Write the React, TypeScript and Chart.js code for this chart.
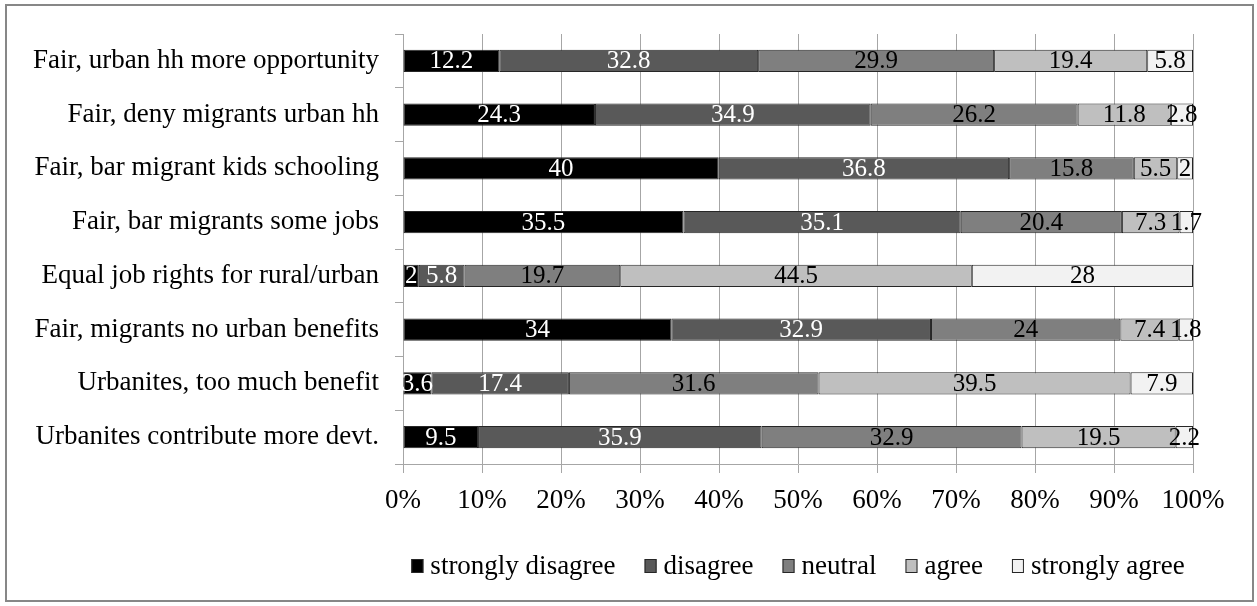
import React, { useEffect, useRef } from "react";
import { Chart, registerables } from "chart.js";

Chart.register(...registerables);

const categories = [
  "Fair, urban hh more opportunity",
  "Fair, deny migrants urban hh",
  "Fair, bar migrant kids schooling",
  "Fair, bar migrants some jobs",
  "Equal job rights for rural/urban",
  "Fair, migrants no urban benefits",
  "Urbanites, too much benefit",
  "Urbanites contribute more devt.",
];

const seriesNames = ["strongly disagree", "disagree", "neutral", "agree", "strongly agree"];

const stronglyDisagree = [12.2, 24.3, 40, 35.5, 2, 34, 3.6, 9.5];
const disagree = [32.8, 34.9, 36.8, 35.1, 5.8, 32.9, 17.4, 35.9];
const neutral = [29.9, 26.2, 15.8, 20.4, 19.7, 24, 31.6, 32.9];
const agree = [19.4, 11.8, 5.5, 7.3, 44.5, 7.4, 39.5, 19.5];
const stronglyAgree = [5.8, 2.8, 2, 1.7, 28, 1.8, 7.9, 2.2];

const xTickLabels = ["0%", "10%", "20%", "30%", "40%", "50%", "60%", "70%", "80%", "90%", "100%"];

const seriesValues = [stronglyDisagree, disagree, neutral, agree, stronglyAgree];
const seriesColors = ["#000000", "#595959", "#7f7f7f", "#bfbfbf", "#f2f2f2"];
const labelColors = ["#ffffff", "#ffffff", "#000000", "#000000", "#000000"];

const FONT = "'Liberation Serif', 'Times New Roman', serif";
const GRID = "#a6a6a6";

const W = 1257;
const H = 606;
const PLOT_LEFT = 403;
const PLOT_RIGHT = 1193;
const PLOT_TOP = 34;
const PLOT_BOTTOM = 464;

const rowSums = categories.map((_, i) => seriesValues.reduce((s, arr) => s + arr[i], 0));

const dataLabelPlugin = {
  id: "segmentLabels",
  afterDatasetsDraw(chart: any) {
    const ctx = chart.ctx;
    ctx.save();
    ctx.font = `25px ${FONT}`;
    ctx.textAlign = "center";
    ctx.textBaseline = "middle";
    chart.data.datasets.forEach((ds: any, di: number) => {
      const meta = chart.getDatasetMeta(di);
      meta.data.forEach((bar: any, i: number) => {
        const raw = ds.rawValues[i];
        const cx = (bar.x + bar.base) / 2;
        ctx.fillStyle = labelColors[di];
        ctx.fillText(String(raw), cx, bar.y + 1);
      });
    });
    ctx.restore();
  },
};

const legendPlugin = {
  id: "customLegend",
  afterDraw(chart: any) {
    const ctx = chart.ctx;
    ctx.save();
    ctx.font = `27px ${FONT}`;
    ctx.textBaseline = "middle";
    ctx.textAlign = "left";
    const boxW = 12;
    const boxH = 14;
    const boxGap = 7;
    const itemGap = 29;
    const items = chart.data.datasets.map((ds: any) => ({
      label: ds.label,
      color: ds.backgroundColor,
      w: boxW + boxGap + ctx.measureText(ds.label).width,
    }));
    const total = items.reduce((s: number, it: any) => s + it.w, 0) + itemGap * (items.length - 1);
    const area = chart.chartArea;
    let x = (area.left + area.right) / 2 - total / 2;
    const y = 566;
    items.forEach((it: any) => {
      ctx.fillStyle = it.color;
      ctx.fillRect(x, y - boxH / 2, boxW, boxH);
      ctx.strokeStyle = "#262626";
      ctx.lineWidth = 1;
      ctx.strokeRect(x + 0.5, y - boxH / 2 + 0.5, boxW - 1, boxH - 1);
      ctx.fillStyle = "#000000";
      ctx.fillText(it.label, x + boxW + boxGap, y + 1);
      x += it.w + itemGap;
    });
    ctx.restore();
  },
};

export default function App() {
  const canvasRef = useRef<HTMLCanvasElement | null>(null);

  useEffect(() => {
    const canvas = canvasRef.current;
    if (!canvas) return;
    const datasets = seriesValues.map((vals, di) => ({
      label: seriesNames[di],
      data: vals.map((v, i) => (v / rowSums[i]) * 100),
      rawValues: vals,
      backgroundColor: seriesColors[di],
      borderColor: "#262626",
      borderWidth: 1,
      borderSkipped: false,
      categoryPercentage: 1,
      barPercentage: 0.41,
    }));

    const chart = new Chart(canvas, {
      type: "bar",
      data: { labels: categories, datasets: datasets as any },
      options: {
        indexAxis: "y",
        responsive: false,
        animation: false,
        devicePixelRatio: 1,
        layout: {
          padding: { left: 0, top: PLOT_TOP, right: W - PLOT_RIGHT, bottom: 0 },
        },
        plugins: {
          legend: { display: false },
          tooltip: { enabled: false },
          title: { display: false },
        },
        scales: {
          x: {
            type: "linear",
            stacked: true,
            min: 0,
            max: 100,
            afterFit(scale: any) {
              scale.height = H - PLOT_BOTTOM;
            },
            ticks: {
              stepSize: 10,
              autoSkip: false,
              maxRotation: 0,
              padding: 12,
              color: "#000000",
              font: { family: FONT, size: 27 },
              callback: (_v: any, i: number) => xTickLabels[i],
            },
            grid: { color: GRID, lineWidth: 1, tickLength: 9, drawTicks: true },
            border: { color: GRID, width: 1 },
          },
          y: {
            type: "category",
            stacked: true,
            offset: true,
            afterFit(scale: any) {
              scale.width = PLOT_LEFT;
            },
            ticks: {
              padding: 16,
              color: "#000000",
              autoSkip: false,
              font: { family: FONT, size: 27 },
            },
            grid: { offset: true, drawOnChartArea: false, tickLength: 8, color: GRID, lineWidth: 1 },
            border: { color: GRID, width: 1 },
          },
        },
      },
      plugins: [dataLabelPlugin, legendPlugin],
    });
    return () => chart.destroy();
  }, []);

  return (
    <div style={{ position: "absolute", left: 0, top: 0, width: W, height: H, background: "#ffffff", overflow: "hidden" }}>
      <div
        style={{
          position: "absolute",
          left: 5,
          top: 4,
          width: 1249,
          height: 598,
          border: "2px solid #878787",
          boxSizing: "border-box",
        }}
      />
      <canvas ref={canvasRef} width={W} height={H} style={{ position: "absolute", left: 0, top: 0 }} />
    </div>
  );
}
